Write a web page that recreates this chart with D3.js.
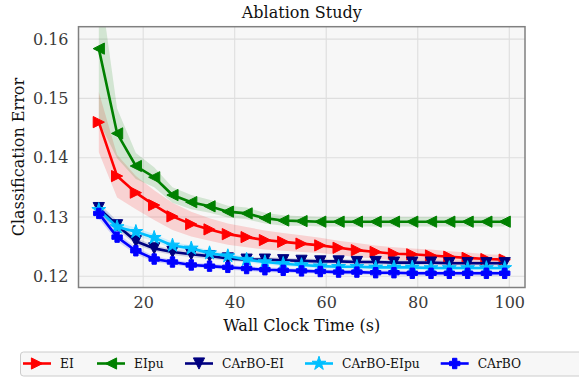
<!DOCTYPE html>
<html>
<head>
<meta charset="utf-8">
<script src="https://cdn.jsdelivr.net/npm/d3@7"></script>
<style>
  html, body { margin: 0; padding: 0; background: #ffffff; }
  svg, svg text { font-family: "DejaVu Serif", serif !important; }
</style>
</head>
<body>
<svg id="chart" width="579" height="377"></svg>
<script>
// ---------------- data ----------------
const wallClock = [10.3, 14.3, 18.4, 22.4, 26.4, 30.5, 34.5, 38.5, 42.6, 46.6, 50.6, 54.6, 58.7, 62.7, 66.7, 70.8, 74.8, 78.8, 82.9, 86.9, 90.9, 95.0, 99.0];

const eiMean   = [0.1460, 0.1369, 0.1341, 0.1320, 0.1301, 0.1288, 0.1279, 0.1271, 0.1266, 0.1261, 0.1258, 0.1255, 0.1252, 0.1248, 0.1244, 0.1241, 0.1238, 0.1237, 0.1235, 0.1233, 0.1231, 0.1229, 0.1228];
const eiStd    = [0.0051, 0.0036, 0.0028, 0.0025, 0.0023, 0.0021, 0.0019, 0.0018, 0.0017, 0.0016, 0.0015, 0.0014, 0.0013, 0.0012, 0.0012, 0.0011, 0.0011, 0.0010, 0.0010, 0.0009, 0.0009, 0.0008, 0.0008];

const eipuMean = [0.1584, 0.1441, 0.1386, 0.1367, 0.1337, 0.1325, 0.1318, 0.1309, 0.1306, 0.1298, 0.1294, 0.1293, 0.1292, 0.1292, 0.1292, 0.1292, 0.1292, 0.1292, 0.1292, 0.1292, 0.1292, 0.1292, 0.1292];
const eipuStd  = [0.0123, 0.0042, 0.0022, 0.0017, 0.0013, 0.0012, 0.0011, 0.0010, 0.0010, 0.0009, 0.0009, 0.0008, 0.0008, 0.0008, 0.0008, 0.0008, 0.0008, 0.0008, 0.0008, 0.0008, 0.0008, 0.0008, 0.0008];

const carboEiMean   = [0.1315, 0.1286, 0.1259, 0.1247, 0.1241, 0.1237, 0.1234, 0.1230, 0.1228, 0.1228, 0.1227, 0.1226, 0.1225, 0.1225, 0.1224, 0.1224, 0.1223, 0.1223, 0.1223, 0.1222, 0.1222, 0.1222, 0.1222];
const carboEiStd    = [0.0009, 0.0007, 0.0006, 0.0005, 0.0005, 0.0005, 0.0005, 0.0004, 0.0004, 0.0004, 0.0004, 0.0004, 0.0004, 0.0004, 0.0004, 0.0004, 0.0004, 0.0004, 0.0004, 0.0004, 0.0004, 0.0004, 0.0004];

const carboEipuMean = [0.1312, 0.1283, 0.1275, 0.1265, 0.1252, 0.1247, 0.1239, 0.1234, 0.1228, 0.1224, 0.1221, 0.1219, 0.1217, 0.1216, 0.1216, 0.1215, 0.1215, 0.1215, 0.1214, 0.1214, 0.1214, 0.1214, 0.1214];
const carboEipuStd  = [0.0009, 0.0008, 0.0007, 0.0006, 0.0006, 0.0005, 0.0005, 0.0005, 0.0005, 0.0004, 0.0004, 0.0004, 0.0004, 0.0004, 0.0004, 0.0004, 0.0004, 0.0004, 0.0004, 0.0004, 0.0004, 0.0004, 0.0004];

const carboMean = [0.1306, 0.1266, 0.1243, 0.1229, 0.1224, 0.1219, 0.1217, 0.1215, 0.1213, 0.1211, 0.1210, 0.1209, 0.1208, 0.1207, 0.1207, 0.1206, 0.1206, 0.1205, 0.1205, 0.1205, 0.1205, 0.1205, 0.1205];
const carboStd  = [0.0009, 0.0007, 0.0006, 0.0005, 0.0004, 0.0004, 0.0004, 0.0004, 0.0004, 0.0004, 0.0004, 0.0004, 0.0004, 0.0004, 0.0004, 0.0004, 0.0004, 0.0004, 0.0004, 0.0004, 0.0004, 0.0004, 0.0004];

const seriesNames = ["EI", "EIpu", "CArBO-EI", "CArBO-EIpu", "CArBO"];
const seriesColors = ["#ff0000", "#008000", "#000080", "#00bfff", "#0000ff"];
const seriesMarkers = ["right", "left", "down", "star", "plus"];

const xTicks = [20, 40, 60, 80, 100];
const yTicks = [0.12, 0.13, 0.14, 0.15, 0.16];
const yLimits = [0.1181, 0.1621];

const titleText = "Ablation Study";
const xLabelText = "Wall Clock Time (s)";
const yLabelText = "Classification Error";

// ---------------- layout ----------------
const FONT = "DejaVu Serif";
const svg = d3.select("#chart");
const plot = { left: 78.5, right: 525, top: 26.7, bottom: 287.5 };

const xMin = d3.min(wallClock), xMax = d3.max(wallClock);
const xPad = (xMax - xMin) * 0.05;
const x = d3.scaleLinear().domain([xMin - xPad, xMax + xPad]).range([plot.left, plot.right]);
const y = d3.scaleLinear().domain(yLimits).range([plot.bottom, plot.top]);

const series = seriesNames.map((name, i) => ({
  name,
  color: seriesColors[i],
  marker: seriesMarkers[i],
  mean: [eiMean, eipuMean, carboEiMean, carboEipuMean, carboMean][i],
  std: [eiStd, eipuStd, carboEiStd, carboEipuStd, carboStd][i]
}));

svg.append("rect").attr("x", 0).attr("y", 0).attr("width", 579).attr("height", 377).attr("fill", "#ffffff");
svg.append("rect")
  .attr("x", plot.left).attr("y", plot.top)
  .attr("width", plot.right - plot.left).attr("height", plot.bottom - plot.top)
  .attr("fill", "#f7f7f7");

svg.append("clipPath").attr("id", "clip").append("rect")
  .attr("x", plot.left).attr("y", plot.top)
  .attr("width", plot.right - plot.left).attr("height", plot.bottom - plot.top);

// grid
const grid = svg.append("g");
grid.selectAll(".gx").data(xTicks).enter().append("line")
  .attr("x1", d => x(d)).attr("x2", d => x(d))
  .attr("y1", plot.top).attr("y2", plot.bottom)
  .attr("stroke", "#dedede").attr("stroke-width", 1.1);
grid.selectAll(".gy").data(yTicks).enter().append("line")
  .attr("x1", plot.left).attr("x2", plot.right)
  .attr("y1", d => y(d)).attr("y2", d => y(d))
  .attr("stroke", "#dedede").attr("stroke-width", 1.1);

// axes
const xAxis = d3.axisBottom(x).tickValues(xTicks).tickFormat(d3.format("d")).tickSize(0).tickPadding(9);
const yAxis = d3.axisLeft(y).tickValues(yTicks).tickFormat(d3.format(".2f")).tickSize(0).tickPadding(10);

const gx = svg.append("g").attr("transform", `translate(0,${plot.bottom})`).call(xAxis);
const gy = svg.append("g").attr("transform", `translate(${plot.left},0)`).call(yAxis);
[gx, gy].forEach(g => {
  g.attr("font-family", FONT).attr("font-size", 16);
  g.select(".domain").remove();
  g.selectAll("text").style("font-family", FONT).style("font-size", "16px").attr("fill", "#3a3a3a");
});
gx.selectAll("text").attr("dy", "0.71em");

function markerPath(kind, r) {
  switch (kind) {
    case "right": return `M${r},0L${-r},${-r}L${-r},${r}Z`;
    case "left":  return `M${-r},0L${r},${-r}L${r},${r}Z`;
    case "down":  return `M0,${r}L${-r},${-r}L${r},${-r}Z`;
    case "star":  return d3.symbol(d3.symbolStar, r * r * 2.2)();
    case "plus": {
      const a = r, b = r * 0.42;
      return `M${-b},${-a}L${b},${-a}L${b},${-b}L${a},${-b}L${a},${b}L${b},${b}L${b},${a}L${-b},${a}L${-b},${b}L${-a},${b}L${-a},${-b}L${-b},${-b}Z`;
    }
  }
}

const content = svg.append("g").attr("clip-path", "url(#clip)");

series.forEach(s => {
  const band = d3.area()
    .x((d, i) => x(wallClock[i]))
    .y0((d, i) => y(s.mean[i] - s.std[i]))
    .y1((d, i) => y(s.mean[i] + s.std[i]));
  content.append("path").datum(s.mean).attr("d", band)
    .attr("fill", s.color).attr("fill-opacity", 0.15).attr("stroke", "none");
});

series.forEach(s => {
  const line = d3.line().x((d, i) => x(wallClock[i])).y(d => y(d));
  content.append("path").datum(s.mean).attr("d", line)
    .attr("fill", "none").attr("stroke", s.color).attr("stroke-width", 2.6);
  const r = (s.marker === "star" || s.marker === "plus") ? 5.2 : 5.6;
  content.selectAll(null).data(s.mean).enter().append("path")
    .attr("transform", (d, i) => `translate(${x(wallClock[i])},${y(d)})`)
    .attr("d", markerPath(s.marker, r))
    .attr("fill", s.color).attr("stroke", s.color).attr("stroke-width", 1);
});

// spines
svg.append("rect")
  .attr("x", plot.left).attr("y", plot.top)
  .attr("width", plot.right - plot.left).attr("height", plot.bottom - plot.top)
  .attr("fill", "none").attr("stroke", "#808080").attr("stroke-width", 1.5);

// title and labels
function label(sel) { return sel.style("font-family", FONT).style("font-size", "16px").attr("fill", "#111"); }
label(svg.append("text").attr("x", (plot.left + plot.right) / 2).attr("y", 18)
  .attr("text-anchor", "middle").text(titleText));
label(svg.append("text").attr("x", (plot.left + plot.right) / 2).attr("y", 331)
  .attr("text-anchor", "middle").text(xLabelText));
label(svg.append("text").attr("transform", `translate(24,${(plot.top + plot.bottom) / 2}) rotate(-90)`)
  .attr("text-anchor", "middle").text(yLabelText));

// legend
const leg = svg.append("g");
leg.append("rect").attr("x", 20.5).attr("y", 352).attr("width", 600).attr("height", 24)
  .attr("rx", 3).attr("fill", "#f7f7f7").attr("stroke", "#cccccc").attr("stroke-width", 1);
const legendStarts = [23, 97, 185, 305, 440.7];
const ly = 363.5;
series.forEach((s, i) => {
  const lx = legendStarts[i];
  leg.append("line").attr("x1", lx).attr("x2", lx + 28).attr("y1", ly).attr("y2", ly)
    .attr("stroke", s.color).attr("stroke-width", 2.6);
  leg.append("path").attr("transform", `translate(${lx + 14},${ly})`)
    .attr("d", markerPath(s.marker, (s.marker === "star" || s.marker === "plus") ? 5.2 : 5.6))
    .attr("fill", s.color).attr("stroke", s.color).attr("stroke-width", 1);
  leg.append("text").attr("x", lx + 37).attr("y", ly).attr("dy", "0.35em")
    .style("font-family", FONT).style("font-size", "12.3px").attr("fill", "#111").text(s.name);
});
</script>
</body>
</html>
